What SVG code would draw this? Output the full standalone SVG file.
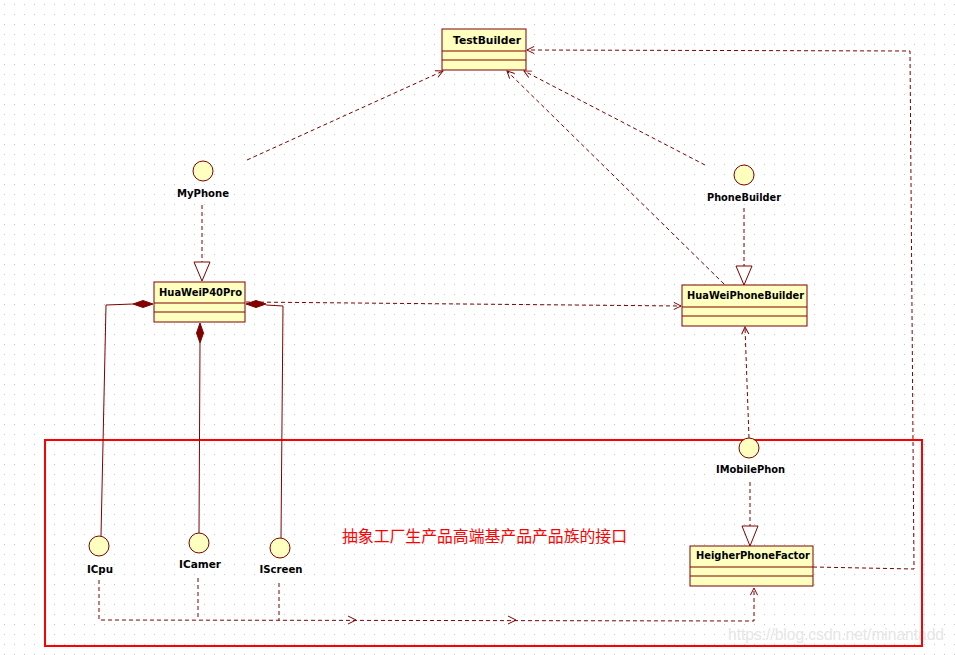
<svg xmlns="http://www.w3.org/2000/svg" width="955" height="655" viewBox="0 0 955 655">
<style>
.box{fill:#ffffc0;stroke:#800000;stroke-width:1}
.div{stroke:#800000;stroke-width:1}
.iface{fill:#ffffc0;stroke:#800000;stroke-width:1}
.lbl{font-family:"DejaVu Sans",Tahoma,sans-serif;font-weight:bold;font-size:10.5px;fill:#000;text-anchor:middle}
.dep{fill:none;stroke:#800000;stroke-width:1;stroke-dasharray:4,3}
.sol{fill:none;stroke:#800000;stroke-width:1}
.tri{fill:#fff;stroke:#800000;stroke-width:1}
.dia{fill:#800000;stroke:#800000;stroke-width:1}
.chev{fill:none;stroke:#800000;stroke-width:1}
</style>
<defs>
<pattern id="grid" x="0" y="0" width="10" height="10" patternUnits="userSpaceOnUse">
<rect x="4" y="4" width="1" height="1" fill="#c4c4c4"/>
</pattern>
<marker id="open" viewBox="0 0 10 10" refX="9" refY="5" markerWidth="9" markerHeight="9" markerUnits="userSpaceOnUse" orient="auto">
<path d="M1,1 L9,5 L1,9" fill="none" stroke="#800000" stroke-width="1.1"/>
</marker>
</defs>
<rect width="955" height="655" fill="#fff"/>
<rect width="955" height="655" fill="url(#grid)"/>

<g id="watermark">
<text x="728" y="640" font-family="'Liberation Sans',Arial,sans-serif" font-size="17" fill="#e6e6e6" textLength="216" lengthAdjust="spacingAndGlyphs">https://blog.csdn.net/minantadd</text>
</g>

<g id="region">
<rect x="45" y="440" width="877" height="206" fill="none" stroke="#ff0000" stroke-width="2"/>
<text x="342" y="542" font-family="'Noto Sans CJK SC',sans-serif" font-size="16" fill="#ff0000" textLength="285" lengthAdjust="spacingAndGlyphs">抽象工厂生产品高端基产品产品族的接口</text>
</g>

<g id="connectors">
<path class="dep" d="M247,160 L443,71" marker-end="url(#open)"/>
<path class="dep" d="M705,165 L524,71" marker-end="url(#open)"/>
<path class="dep" d="M724,284 L507,71" marker-end="url(#open)"/>
<path class="dep" d="M813,567 L914,569 L910,51 L527,50" marker-end="url(#open)"/>
<path class="dep" d="M202,205 L202,262"/>
<polygon class="tri" points="194,262 210,262 202,281"/>
<path class="dep" d="M744,208 L744,266"/>
<polygon class="tri" points="736,266 752,266 744,285"/>
<path class="dep" d="M750,482 L750,526"/>
<polygon class="tri" points="742,526 758,526 750,546"/>
<path class="dep" d="M246,302 L681,306" marker-end="url(#open)"/>
<path class="dep" d="M749,438 L745,327" marker-end="url(#open)"/>
<path class="sol" d="M133,304 L106,305 L101,536"/>
<polygon class="dia" points="153,304 143,300.5 133,304 143,307.5"/>
<path class="sol" d="M200,343 L199,533"/>
<polygon class="dia" points="200,323 203.5,333 200,343 196.5,333"/>
<path class="sol" d="M266,305 L283,306 L281,538"/>
<polygon class="dia" points="246,304 256,300.5 266,304 256,307.5"/>
<path class="dep" d="M99,580 L99,620 L754,621 L754,588" marker-end="url(#open)"/>
<path class="dep" d="M198,578 L198,620"/>
<path class="dep" d="M279,583 L279,620"/>
<path class="chev" d="M348,616 L356,620 L348,624"/>
<path class="chev" d="M508,616 L516,620 L508,624"/>
</g>

<g id="TestBuilder">
<rect class="box" x="442" y="29" width="84" height="41"/>
<line class="div" x1="442" y1="51" x2="526" y2="51"/>
<line class="div" x1="442" y1="60" x2="526" y2="60"/>
<text class="lbl" x="487" y="44" textLength="68" lengthAdjust="spacingAndGlyphs">TestBuilder</text>
</g>

<g id="MyPhone">
<circle class="iface" cx="203" cy="171" r="10"/>
<text class="lbl" x="203" y="197" textLength="52" lengthAdjust="spacingAndGlyphs">MyPhone</text>
</g>

<g id="PhoneBuilder">
<circle class="iface" cx="744" cy="175" r="10"/>
<text class="lbl" x="744" y="201" textLength="74" lengthAdjust="spacingAndGlyphs">PhoneBuilder</text>
</g>

<g id="HuaWeiP40Pro">
<rect class="box" x="154" y="282" width="91" height="40"/>
<line class="div" x1="154" y1="303" x2="245" y2="303"/>
<line class="div" x1="154" y1="312" x2="245" y2="312"/>
<text class="lbl" x="200.5" y="296" textLength="83" lengthAdjust="spacingAndGlyphs">HuaWeiP40Pro</text>
</g>

<g id="HuaWeiPhoneBuilder">
<rect class="box" x="682" y="285" width="125" height="41"/>
<line class="div" x1="682" y1="307" x2="807" y2="307"/>
<line class="div" x1="682" y1="316" x2="807" y2="316"/>
<text class="lbl" x="745.5" y="299" textLength="117" lengthAdjust="spacingAndGlyphs">HuaWeiPhoneBuilder</text>
</g>

<g id="IMobilePhon">
<circle class="iface" cx="749" cy="448" r="10"/>
<text class="lbl" x="750.5" y="473" textLength="69" lengthAdjust="spacingAndGlyphs">IMobilePhon</text>
</g>

<g id="HeigherPhoneFactor">
<rect class="box" x="690" y="546" width="123" height="40"/>
<line class="div" x1="690" y1="567" x2="813" y2="567"/>
<line class="div" x1="690" y1="576" x2="813" y2="576"/>
<text class="lbl" x="753" y="559" textLength="114" lengthAdjust="spacingAndGlyphs">HeigherPhoneFactor</text>
</g>

<g id="ICpu">
<circle class="iface" cx="99" cy="546" r="10"/>
<text class="lbl" x="100" y="573" textLength="26" lengthAdjust="spacingAndGlyphs">ICpu</text>
</g>

<g id="ICamer">
<circle class="iface" cx="199" cy="543" r="10"/>
<text class="lbl" x="200" y="568" textLength="42" lengthAdjust="spacingAndGlyphs">ICamer</text>
</g>

<g id="IScreen">
<circle class="iface" cx="280" cy="548" r="10"/>
<text class="lbl" x="281" y="573" textLength="43" lengthAdjust="spacingAndGlyphs">IScreen</text>
</g>
</svg>
